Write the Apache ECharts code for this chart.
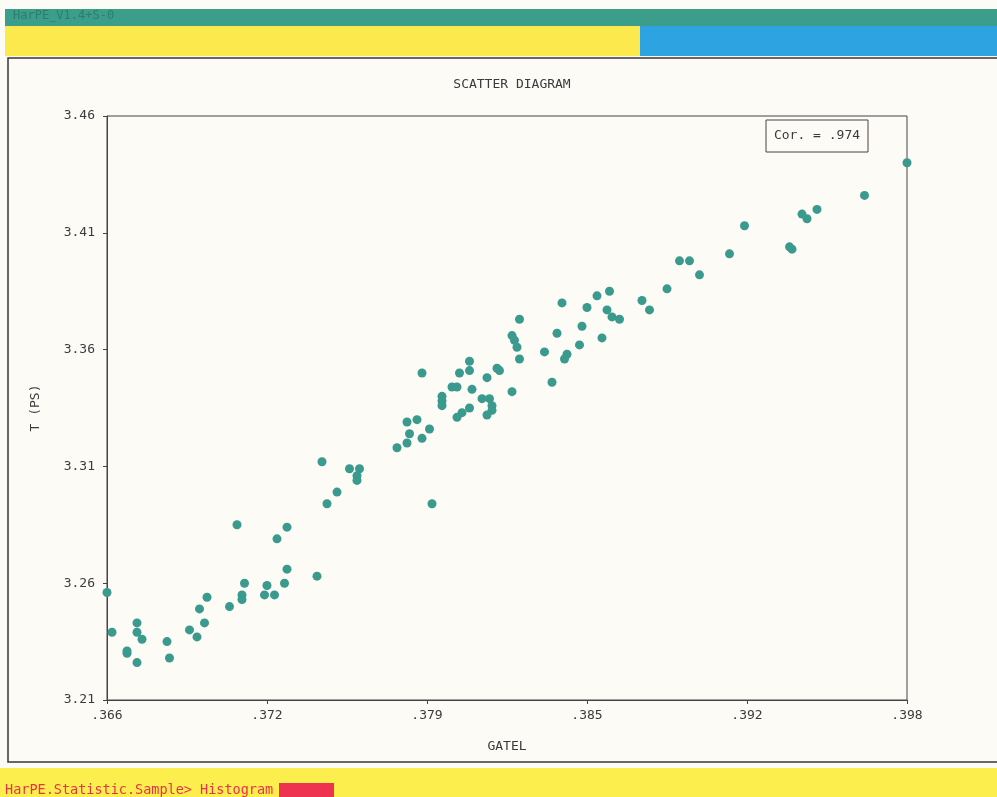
<!DOCTYPE html>
<html>
<head>
<meta charset="utf-8">
<script src="https://cdn.jsdelivr.net/npm/echarts@6/dist/echarts.min.js"></script>
<style>
html,body{margin:0;padding:0;background:#fcfbf5;}
#chart{width:997px;height:797px;}
</style>
</head>
<body>
<div id="chart"></div>
<script>
// ---- data (GATEL, T (PS)) ----
const gatel = [
  0.3980,0.3963,0.3938,0.3940,0.3944,0.3915,0.3933,0.3934,0.3889,0.3893,
  0.3909,0.3897,0.3884,0.3861,0.3856,0.3842,0.3852,0.3860,0.3862,0.3865,
  0.3874,0.3877,0.3850,0.3840,0.3835,0.3858,0.3849,0.3844,0.3843,0.3838,
  0.3825,0.3822,0.3823,0.3824,0.3825,0.3822,0.3805,0.3801,0.3805,0.3816,
  0.3817,0.3812,0.3798,0.3800,0.3806,0.3794,0.3794,0.3794,0.3810,0.3813,
  0.3814,0.3814,0.3812,0.3805,0.3802,0.3800,0.3786,0.3784,0.3780,0.3781,
  0.3789,0.3786,0.3780,0.3776,0.3746,0.3757,0.3761,0.3760,0.3760,0.3752,
  0.3748,0.3790,0.3660,0.3662,0.3668,0.3668,0.3672,0.3672,0.3674,0.3672,
  0.3684,0.3685,0.3693,0.3696,0.3697,0.3699,0.3700,0.3709,0.3712,0.3714,
  0.3714,0.3715,0.3723,0.3724,0.3727,0.3728,0.3732,0.3731,0.3732,0.3744
];
const tps = [
  3.440,3.426,3.418,3.416,3.420,3.413,3.404,3.403,3.398,3.398,
  3.401,3.392,3.386,3.385,3.383,3.380,3.378,3.377,3.374,3.373,
  3.381,3.377,3.370,3.367,3.359,3.365,3.362,3.358,3.356,3.346,
  3.373,3.366,3.364,3.361,3.356,3.342,3.355,3.350,3.351,3.352,
  3.351,3.348,3.344,3.344,3.343,3.340,3.338,3.336,3.339,3.339,
  3.336,3.334,3.332,3.335,3.333,3.331,3.350,3.330,3.329,3.324,
  3.326,3.322,3.320,3.318,3.312,3.309,3.309,3.306,3.304,3.299,
  3.294,3.294,3.256,3.239,3.230,3.231,3.243,3.239,3.236,3.226,
  3.235,3.228,3.240,3.237,3.249,3.243,3.254,3.250,3.285,3.255,
  3.253,3.260,3.255,3.259,3.255,3.279,3.266,3.260,3.284,3.263
];
const xTickValues = [0.366, 0.3724, 0.3788, 0.3852, 0.3916, 0.398];
const xTickLabels = ['.366', '.372', '.379', '.385', '.392', '.398'];
const yTickValues = [3.21, 3.26, 3.31, 3.36, 3.41, 3.46];
const yTickLabels = ['3.21', '3.26', '3.31', '3.36', '3.41', '3.46'];
const corText = 'Cor. = .974';

const points = gatel.map((g, i) => [g, tps[i]]);
const mono = 'DejaVu Sans Mono';
const ink = '#3c3a3e';

function nearestLabel(vals, labels, v) {
  let best = 0;
  for (let i = 1; i < vals.length; i++) {
    if (Math.abs(vals[i] - v) < Math.abs(vals[best] - v)) best = i;
  }
  return labels[best];
}

const chart = echarts.init(document.getElementById('chart'), null, {renderer: 'canvas'});
chart.setOption({
  backgroundColor: '#fcfbf5',
  animation: false,
  title: {
    text: 'SCATTER DIAGRAM',
    left: 507, top: 73, textAlign: 'center',
    textStyle: {fontFamily: mono, fontSize: 13, fontWeight: 'normal', color: ink}
  },
  grid: {
    left: 107, top: 116, width: 800, height: 584,
    show: true, borderColor: '#4a4048', borderWidth: 1, backgroundColor: 'transparent'
  },
  xAxis: {
    type: 'value', min: 0.366, max: 0.398,
    name: 'GATEL', nameLocation: 'middle', nameGap: 40,
    nameTextStyle: {fontFamily: mono, fontSize: 13, color: ink},
    axisLine: {show: true, lineStyle: {color: '#4a4048', width: 1}},
    axisTick: {show: true, customValues: xTickValues, length: 4, lineStyle: {color: '#4a4048'}},
    axisLabel: {
      customValues: xTickValues, margin: 9,
      fontFamily: mono, fontSize: 13, color: ink,
      formatter: v => nearestLabel(xTickValues, xTickLabels, v)
    },
    splitLine: {show: false}
  },
  yAxis: {
    type: 'value', min: 3.21, max: 3.46,
    name: 'T (PS)', nameLocation: 'middle', nameGap: 65, nameRotate: 90,
    nameTextStyle: {fontFamily: mono, fontSize: 13, color: ink},
    axisLine: {show: true, lineStyle: {color: '#4a4048', width: 1}},
    axisTick: {show: true, customValues: yTickValues, length: 4, lineStyle: {color: '#4a4048'}},
    axisLabel: {
      customValues: yTickValues, margin: 12,
      fontFamily: mono, fontSize: 13, color: ink,
      formatter: v => nearestLabel(yTickValues, yTickLabels, v)
    },
    splitLine: {show: false}
  },
  series: [{
    type: 'scatter',
    data: points,
    symbol: 'circle',
    symbolSize: 9,
    clip: false,
    itemStyle: {color: '#3a9a8e', opacity: 1}
  }],
  graphic: [
    // top status bars
    {type: 'rect', shape: {x: 5, y: 9, width: 992, height: 17}, style: {fill: '#3a9e8a'}, z: 1},
    {type: 'text', x: 13, y: 10, style: {text: 'HarPE_V1.4+S-0', font: '12px "DejaVu Sans Mono"', fill: '#2c7d70'}, z: 2},
    {type: 'rect', shape: {x: 5, y: 26, width: 635, height: 30}, style: {fill: '#fce94e'}, z: 1},
    {type: 'rect', shape: {x: 640, y: 26, width: 357, height: 30}, style: {fill: '#2ea3e2'}, z: 1},
    // outer frame
    {type: 'rect', shape: {x: 8, y: 58, width: 1000, height: 704}, style: {fill: 'none', stroke: '#3a3638', lineWidth: 1.5}, z: 1},
    // correlation box
    {type: 'rect', shape: {x: 766, y: 120, width: 102, height: 32}, style: {fill: '#fcfbf5', stroke: '#4a4048', lineWidth: 1}, z: 5},
    {type: 'text', x: 817, y: 136, style: {text: corText, font: '13px "DejaVu Sans Mono"', fill: ink, align: 'center', verticalAlign: 'middle'}, z: 6},
    // bottom command bar
    {type: 'rect', shape: {x: 0, y: 768, width: 997, height: 29}, style: {fill: '#fcee4c'}, z: 1},
    {type: 'text', x: 5, y: 783, style: {text: 'HarPE.Statistic.Sample> Histogram', font: '13.5px "DejaVu Sans Mono"', fill: '#e8324a'}, z: 2},
    {type: 'rect', shape: {x: 279, y: 783, width: 55, height: 14}, style: {fill: '#ee3350'}, z: 2}
  ]
});
</script>
</body>
</html>
